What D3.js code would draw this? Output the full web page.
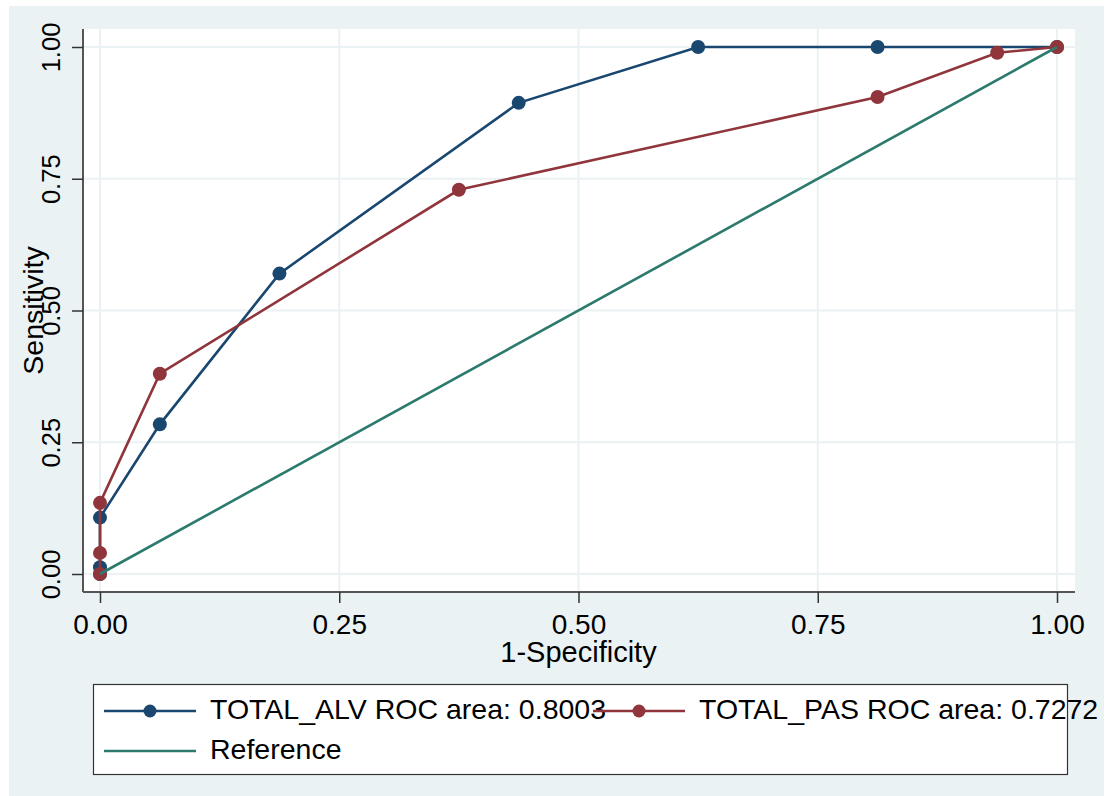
<!DOCTYPE html>
<meta charset="utf-8">
<script src="https://d3js.org/d3.v7.min.js"></script>
<style>
  body { margin: 0; background: #fff; }
  text { font-family: "Liberation Sans", Arial, sans-serif; fill: #000; }
</style>
<svg id="my_dataviz" width="1110" height="796"></svg>
<script>

// ROC points
var alvFpr  = [0, 0, 0, 0.0625, 0.1875, 0.4375, 0.625, 0.8125, 1];
var alvSens = [0, 0.013, 0.107, 0.284, 0.570, 0.894, 1, 1, 1];
var pasFpr  = [0, 0, 0, 0.0625, 0.375, 0.8125, 0.9375, 1];
var pasSens = [0, 0.040, 0.135, 0.380, 0.729, 0.905, 0.989, 1];
var refFpr  = [0, 1];
var refSens = [0, 1];

var tickValues = [0, 0.25, 0.5, 0.75, 1];
var tickLabels = ["0.00", "0.25", "0.50", "0.75", "1.00"];

var legendLabels = ["TOTAL_ALV ROC area: 0.8003", "TOTAL_PAS ROC area: 0.7272", "Reference"];

var colBlue = "#1a476f", colRed = "#90353b", colRef = "#2c7a6c";
var bgOuter = "#eaf2f3", gridCol = "#eaf2f3";

var svg = d3.select("svg");

// outer graph region
svg.append("rect").attr("x", 9).attr("y", 6).attr("width", 1095).attr("height", 790).attr("fill", bgOuter);

// plot region
svg.append("rect").attr("x", 83).attr("y", 29).attr("width", 992).attr("height", 563).attr("fill", "#fff");

var x = d3.scaleLinear().domain([0, 1]).range([100, 1057]);
var y = d3.scaleLinear().domain([0, 1]).range([574, 47]);

// grid
svg.append("g").selectAll("line.gx")
  .data(tickValues).enter().append("line")
    .attr("x1", function(d){ return x(d) }).attr("x2", function(d){ return x(d) })
    .attr("y1", 29).attr("y2", 592)
    .attr("stroke", gridCol).attr("stroke-width", 2);
svg.append("g").selectAll("line.gy")
  .data(tickValues).enter().append("line")
    .attr("x1", 83).attr("x2", 1075)
    .attr("y1", function(d){ return y(d) }).attr("y2", function(d){ return y(d) })
    .attr("stroke", gridCol).attr("stroke-width", 2);

// axes
var xAxis = svg.append("g").attr("transform", "translate(0,592)")
  .call(d3.axisBottom(x).tickValues(tickValues).tickFormat(function(d,i){ return tickLabels[i] })
        .tickSize(11).tickPadding(11));
xAxis.select(".domain").attr("d", "M83,0H1075").attr("stroke", "#555").attr("stroke-width", 2);
xAxis.selectAll(".tick line").attr("stroke", "#333").attr("stroke-width", 1.5);
xAxis.selectAll(".tick text").attr("font-size", 28).attr("font-family", null).attr("fill", "#000");

var yAxis = svg.append("g").attr("transform", "translate(83,0)")
  .call(d3.axisLeft(y).tickValues(tickValues).tickFormat(function(d,i){ return tickLabels[i] })
        .tickSize(11).tickPadding(0));
yAxis.select(".domain").attr("d", "M0,29V592").attr("stroke", "#555").attr("stroke-width", 2);
yAxis.selectAll(".tick line").attr("stroke", "#333").attr("stroke-width", 1.5);
yAxis.selectAll(".tick text")
  .attr("x", null).attr("dy", null)
  .attr("transform", "translate(-23,0) rotate(-90)")
  .attr("text-anchor", "middle")
  .attr("font-size", 25.5).attr("font-family", null).attr("fill", "#000");
svg.selectAll(".tick text").style("font-family", '"Liberation Sans", Arial, sans-serif');

// axis titles
svg.append("text").attr("x", x(0.5)).attr("y", 662).attr("text-anchor", "middle")
  .style("font-size", "29px").text("1-Specificity");
svg.append("text").attr("transform", "translate(43," + y(0.5) + ") rotate(-90)")
  .attr("text-anchor", "middle").style("font-size", "28.5px").text("Sensitivity");

// curves
function series(xs, ys) { return xs.map(function(d, i){ return [d, ys[i]] }) }
var line = d3.line().x(function(d){ return x(d[0]) }).y(function(d){ return y(d[1]) });

var curves = [
  { pts: series(alvFpr, alvSens), color: colBlue },
  { pts: series(pasFpr, pasSens), color: colRed }
];

curves.forEach(function(c) {
  svg.append("path").datum(c.pts).attr("d", line)
    .attr("fill", "none").attr("stroke", c.color).attr("stroke-width", 2.6);
  svg.append("g").selectAll("circle").data(c.pts).enter().append("circle")
    .attr("cx", function(d){ return x(d[0]) }).attr("cy", function(d){ return y(d[1]) })
    .attr("r", 7).attr("fill", c.color);
});

svg.append("path").datum(series(refFpr, refSens)).attr("d", line)
  .attr("fill", "none").attr("stroke", colRef).attr("stroke-width", 2.6);

// legend
svg.append("rect").attr("x", 93.5).attr("y", 684.5).attr("width", 974).attr("height", 90)
  .attr("fill", "#fff").attr("stroke", "#333").attr("stroke-width", 1.2);

var legendItems = [
  { lx: 104, ly: 711, tx: 210, ty: 719, color: colBlue, marker: true },
  { lx: 593, ly: 711, tx: 699, ty: 719, color: colRed, marker: true },
  { lx: 104, ly: 751, tx: 210, ty: 759, color: colRef, marker: false }
];

var lg = svg.append("g").selectAll("g").data(legendItems).enter().append("g");
lg.append("line")
  .attr("x1", function(d){ return d.lx }).attr("x2", function(d){ return d.lx + 92 })
  .attr("y1", function(d){ return d.ly }).attr("y2", function(d){ return d.ly })
  .attr("stroke", function(d){ return d.color }).attr("stroke-width", 2.6);
lg.filter(function(d){ return d.marker }).append("circle")
  .attr("cx", function(d){ return d.lx + 46 }).attr("cy", function(d){ return d.ly })
  .attr("r", 6.5).attr("fill", function(d){ return d.color });
lg.append("text")
  .attr("x", function(d){ return d.tx }).attr("y", function(d){ return d.ty })
  .style("font-size", "28.5px")
  .text(function(d, i){ return legendLabels[i] });

</script>
